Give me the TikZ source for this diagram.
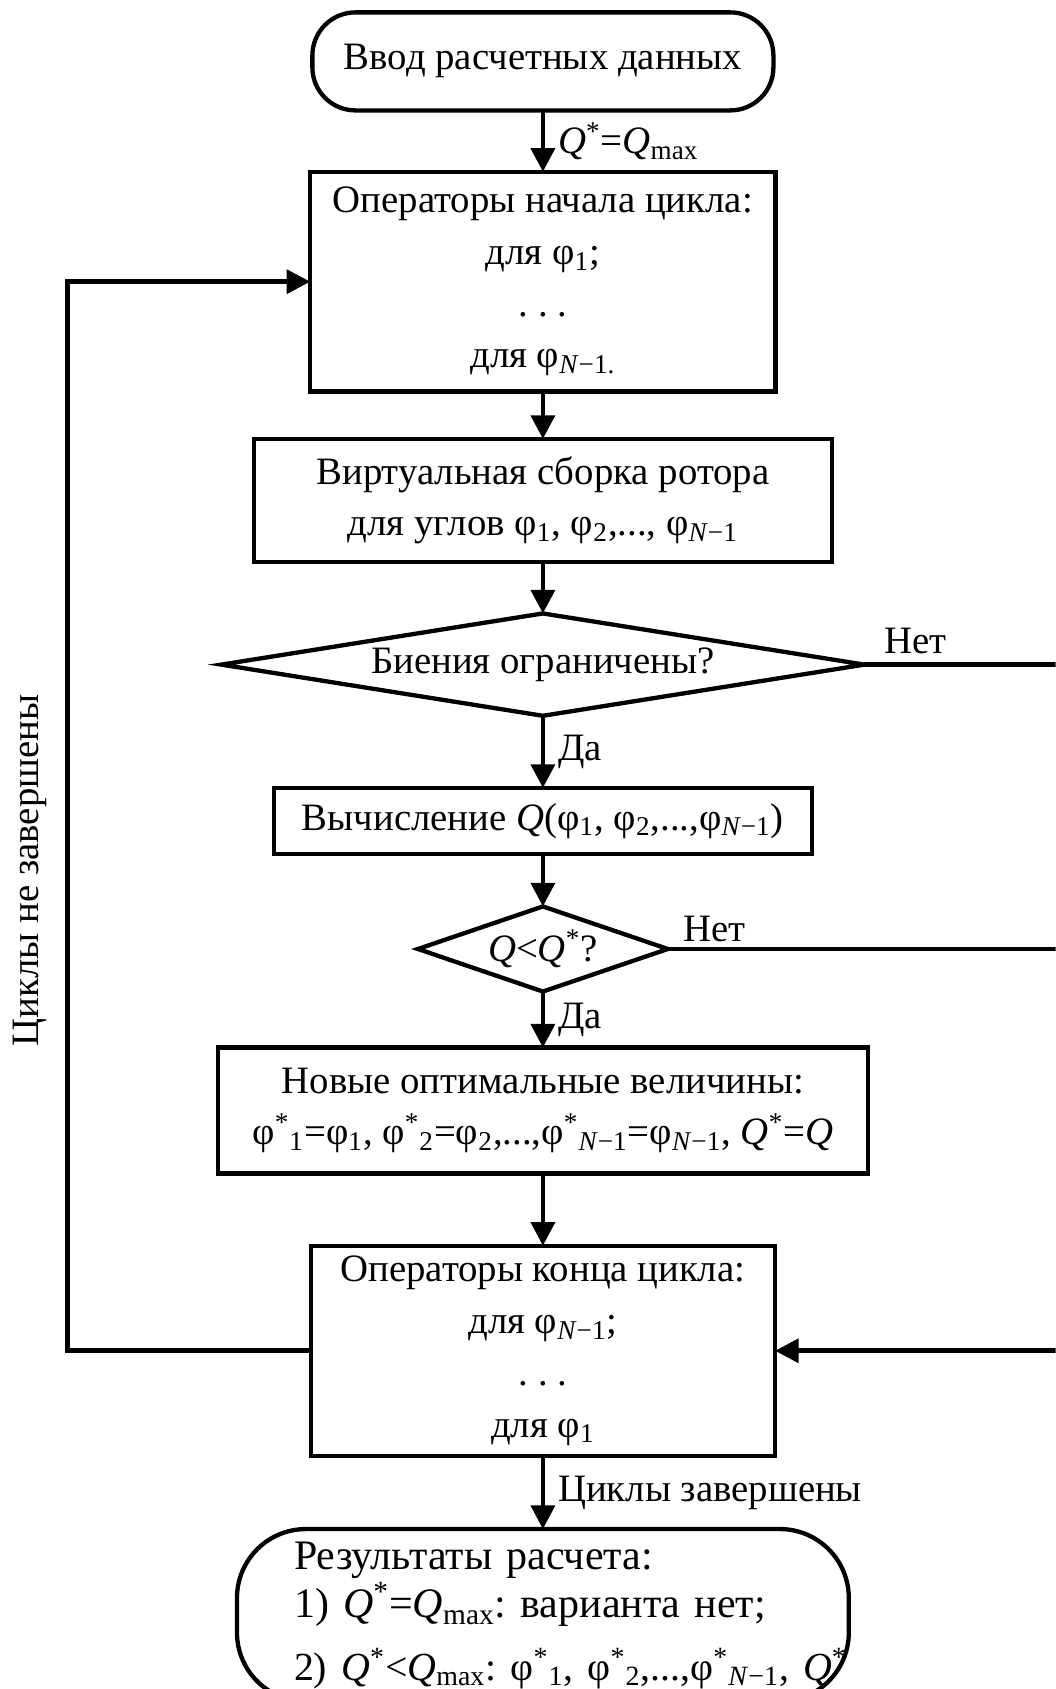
\documentclass[tikz,border=0pt]{standalone}
\usepackage{fontspec}
\setmainfont{Liberation Serif}
\usetikzlibrary{shapes.geometric, arrows.meta, positioning}
\frenchspacing
\newcommand{\ph}[1]{φ\textsubscript{#1}}
\newcommand{\phs}[1]{φ\textsuperscript{*}\textsubscript{#1}}
\newcommand{\Qs}{\textit{Q}\textsuperscript{*}}
\newcommand{\Qmax}{\textit{Q}\textsubscript{max}}
\newcommand{\Nm}{\textit{N}−1}
\tikzstyle{startstop} = [rectangle, rounded corners=20pt, outer sep=0pt, minimum width=214pt, minimum height=45.5pt, text centered, draw=black, line width=2pt]
\tikzstyle{process} = [rectangle, inner sep=3pt, outer sep=0pt, align=center, draw=black, line width=2pt]
\tikzstyle{decision} = [diamond, inner sep=0pt, outer sep=0pt, text centered, draw=black, line width=2pt]
\tikzstyle{arrow} = [line width=2.2pt, -{Triangle[length=11pt, width=11pt]}]
\tikzset{
    plainline/.style={
        line width=2.2pt
    },
    lbl/.style={
        inner sep=2pt
    }
}
\begin{document}
\begin{tikzpicture}[x=0.5pt, y=-0.5pt, font=\fontsize{18}{24}\selectfont]
	\useasboundingbox (0,0) rectangle (980,1568);
	\clip (0,0) rectangle (980,1568);
	\coordinate (leftLine) at (63,0);
	\coordinate (rightLine) at (1000,0);
	\node (inputData) [startstop] at (504,57) {Ввод расчетных данных};
	\node (loopBegin) [process, minimum width=216pt, minimum height=102pt, below = 28.5pt of inputData]
		{Операторы начала цикла:\\ для \ph{1};\\ . . .\\ для \ph{\Nm.}};
	\node (assembly) [process, minimum width=268.5pt, minimum height=57pt, below = 22pt of loopBegin]
		{Виртуальная сборка ротора\\ для углов \ph{1}, \ph{2},..., \ph{\Nm}};
	\node (boundCheck) [decision, aspect=6, minimum width=298.5pt, minimum height=47.5pt, below = 24pt of assembly]
		{Биения ограничены?};
	\node (calcQ) [process, minimum width=249.5pt, minimum height=30.5pt, below = 33.5pt of boundCheck]
		{Вычисление \textit{Q}(\ph{1}, \ph{2},...,\ph{\Nm})};
	\node (qCheck) [decision, aspect=3, minimum width=116pt, minimum height=39.5pt, below = 24.5pt of calcQ]
		{\textit{Q}<\Qs?};
	\node (newOptimum) [process, minimum width=301.5pt, minimum height=58.5pt, below = 26pt of qCheck]
		{Новые оптимальные величины:\\ \phs{1}=\ph{1}, \phs{2}=\ph{2},...,\phs{\Nm}=\ph{\Nm}, \Qs=\textit{Q}};
	\node (loopEnd) [process, minimum width=215.5pt, minimum height=97.5pt, below = 33.5pt of newOptimum]
		{Операторы конца цикла:\\ для \ph{\Nm};\\ . . .\\ для \ph{1}};
	\node (results) [startstop, rounded corners=32pt, inner xsep=2pt, align=left, text width=231pt, minimum width=284pt, minimum height=80pt, below = 34pt of loopEnd, font=\fontsize{19.5}{22.5}\selectfont]
		{\mbox{Результаты расчета:}\\ \mbox{1) \Qs=\Qmax: варианта нет;}\\[6.5pt] \mbox{\fontsize{18.5}{22.5}\selectfont 2) \Qs<\Qmax: \phs{1}, \phs{2},...,\phs{\Nm}, \Qs}};
	\node (loopLabel) [lbl, rotate=90] at (28,808) {Циклы не завершены};
	\draw [arrow] (inputData) -- node [lbl, anchor=west, xshift=4pt] {\Qs=\Qmax} (loopBegin);
	\draw [arrow] (loopBegin) -- (assembly);
	\draw [arrow] (assembly) -- (boundCheck);
	\draw [arrow] (boundCheck) -- node [lbl, anchor=west, xshift=4pt] {Да} (calcQ);
	\draw [arrow] (calcQ) -- (qCheck);
	\draw [arrow] (qCheck) -- node [lbl, anchor=west, xshift=4pt] {Да} (newOptimum);
	\draw [arrow] (newOptimum) -- (loopEnd);
	\draw [arrow] (loopEnd) -- node [lbl, anchor=west, xshift=4pt] {Циклы завершены} (results);
	\draw [arrow] (loopEnd.west) -- (loopEnd.west -| leftLine) |- (loopBegin.west);
	\draw [arrow] (boundCheck.east) -- node [lbl, pos=0, anchor=south west, xshift=6pt, yshift=2pt] {Нет} (boundCheck.east -| rightLine) |- (loopEnd.east);
	\draw [plainline] (qCheck.east) -- node [lbl, pos=0, anchor=south west, xshift=4pt] {Нет} (qCheck.east -| rightLine);
\end{tikzpicture}
\end{document}
